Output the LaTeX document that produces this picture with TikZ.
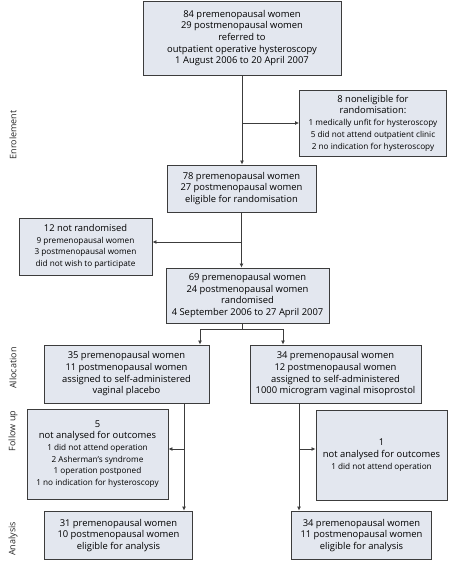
\documentclass[tikz,border=0pt]{standalone}
\usepackage{fontspec}
\setmainfont{Open Sans}
\usetikzlibrary{arrows.meta}
\definecolor{boxfill}{HTML}{E3E7EF}
\definecolor{boxline}{HTML}{3C3C3C}
\tikzset{
  box/.style={draw=boxline, fill=boxfill, line width=0.9pt, align=center, inner sep=0pt,
    font=\fontsize{9.4}{11.7}\selectfont, text=black},
  thickbox/.style={box, line width=1.8pt},
  arr/.style={draw=boxline, line width=0.8pt, -{Latex[length=4pt,width=4pt]}},
  ln/.style={draw=boxline, line width=0.8pt},
  side/.style={rotate=90, font=\fontsize{9}{11}\selectfont, text=black!85}
}
\newcommand{\sm}{\fontsize{8.2}{10}\selectfont}
\begin{document}
\begin{tikzpicture}[x=1pt,y=-1pt]
\useasboundingbox (0,0) rectangle (448,561);
\node[box, minimum width=198, minimum height=74] (b1) at (242,38)
  {84 premenopausal women\\29 postmenopausal women\\referred to\\outpatient operative hysteroscopy\\1 August 2006 to 20 April 2007};
\node[box, minimum width=147, minimum height=66] (b2) at (373,123)
  {8 noneligible for\\randomisation:\\{\sm 1 medically unfit for hysteroscopy}\\{\sm 5 did not attend outpatient clinic}\\{\sm 2 no indication for hysteroscopy}};
\node[box, minimum width=149, minimum height=47] (b3) at (241.5,188.5)
  {78 premenopausal women\\27 postmenopausal women\\eligible for randomisation};
\node[box, minimum width=133, minimum height=57] (b4) at (85.5,246.5)
  {12 not randomised\\{\sm 9 premenopausal women}\\{\sm 3 postmenopausal women}\\{\sm did not wish to participate}};
\node[box, minimum width=163, minimum height=55] (b5) at (247.5,295.5)
  {69 premenopausal women\\24 postmenopausal women\\randomised\\4 September 2006 to 27 April 2007};
\node[box, minimum width=165, minimum height=58] (b6) at (126.5,374)
  {35 premenopausal women\\11 postmenopausal women\\assigned to self-administered\\vaginal placebo};
\node[box, minimum width=171, minimum height=58] (b7) at (335.5,374)
  {34 premenopausal women\\12 postmenopausal women\\assigned to self-administered\\1000 microgram vaginal misoprostol};
\node[box, minimum width=141, minimum height=90] (b8) at (97.5,454)
  {5\\not analysed for outcomes\\{\sm 1 did not attend operation}\\{\sm 2 Asherman's syndrome}\\{\sm 1 operation postponed}\\{\sm 1 no indication for hysteroscopy}};
\node[box, minimum width=131, minimum height=90] (b9) at (381.5,455)
  {1\\not analysed for outcomes\\{\sm 1 did not attend operation}};
\node[thickbox, minimum width=148, minimum height=48] (b10) at (118.5,535.5)
  {31 premenopausal women\\10 postmenopausal women\\eligible for analysis};
\node[thickbox, minimum width=140, minimum height=48] (b11) at (361.5,535.5)
  {34 premenopausal women\\11 postmenopausal women\\eligible for analysis};
% side labels
\node[side] (l1) at (13,135) {Enrolement};
\node[side] (l2) at (13,368) {Allocation};
\node[side] (l3) at (13,431) {Follow up};
\node[side] (l4) at (13,539) {Analysis};
% connectors
\coordinate (c1) at (242,123);
\coordinate (c2) at (242,242);
\coordinate (sp) at (242,329);
\coordinate (la) at (200,329);
\coordinate (ra) at (283,329);
\coordinate (lv) at (184,449);
\coordinate (rv) at (299,449);
\draw[arr] (b1.south) -- (b1.south |- b3.north);
\draw[arr] (c1) -- (b2.west);
\draw[arr] (b3.south) -- (b3.south |- b5.north);
\draw[arr] (c2) -- (c2 -| b4.east);
\draw[ln] (sp |- b5.south) -- (sp);
\draw[arr] (sp) -- (la) -- (la |- b6.north);
\draw[arr] (sp) -- (ra) -- (ra |- b7.north);
\draw[arr] (lv |- b6.south) -- (lv |- b10.north);
\draw[arr] (lv) -- (lv -| b8.east);
\draw[arr] (rv |- b7.south) -- (rv |- b11.north);
\draw[arr] (rv) -- (rv -| b9.west);
\end{tikzpicture}
\end{document}
